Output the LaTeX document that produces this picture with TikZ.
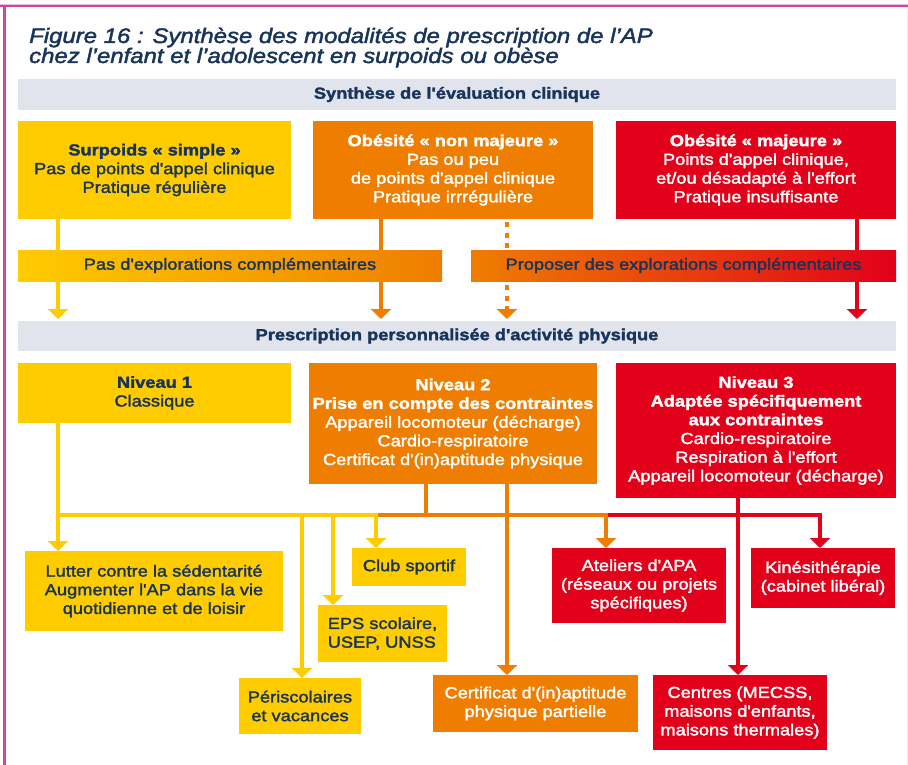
\documentclass[tikz,border=0pt]{standalone}
\usepackage{fontspec}
\setmainfont{Liberation Sans}[FakeStretch=1.14, FakeBold=2, Ligatures=TeXOff]
\usepackage{tikz}
\usetikzlibrary{arrows.meta}
\definecolor{jaune}{RGB}{255,204,0}
\definecolor{orangeAP}{RGB}{239,125,0}
\definecolor{rougeAP}{RGB}{226,0,26}
\definecolor{marine}{RGB}{24,52,90}
\definecolor{grisbande}{RGB}{225,228,236}
\definecolor{rose}{RGB}{207,72,152}
\pgfdeclarelayer{fond}
\pgfsetlayers{fond,main}

\begin{document}
\begin{tikzpicture}[x=1pt, y=-1pt,
	boite/.style={anchor=north west, inner sep=0pt, outer sep=0pt, align=center, font=\fontsize{16}{18.7}\selectfont},
	bande/.style={boite, fill=grisbande, text=marine, font=\fontsize{16}{18.7}\selectfont\bfseries},
	titre/.style={anchor=base west, inner sep=0pt, text=marine, font=\fontsize{21}{20}\selectfont\itshape},
	lien/.style={line width=3.3pt, -{Triangle[width=20pt, length=10pt]}},
	trait/.style={line width=3.3pt}]
	
	\useasboundingbox (0,0) rectangle (908,765);
	\draw[rose!40, line width=1pt] (0,4.3) -- (908,4.3);
	\draw[rose, line width=2.2pt] (0,6.3) -- (908,6.3);
	\draw[rose, line width=2.4pt] (4.5,5.2) -- (4.5,765);
	\draw[black!8, line width=1pt] (907,8) -- (907,765);
	
	\node[titre] (titre1) at (29,43) {Figure 16 : Synthèse des modalités de prescription de l’AP};
	\node[titre] (titre2) at (29,63) {chez l’enfant et l’adolescent en surpoids ou obèse};
	
	\node[bande, minimum width=878pt, minimum height=31pt] (evaluation) at (18,79) {Synthèse de l'évaluation clinique};
	
	\node[boite, fill=jaune, text=marine, minimum width=273pt, minimum height=98pt] (surpoids) at (18,121) {\textbf{Surpoids «~simple~»}\\Pas de points d'appel clinique\\Pratique régulière};
	\node[boite, fill=orangeAP, text=white, minimum width=280pt, minimum height=98pt] (nonmajeure) at (313,121) {\textbf{Obésité «~non majeure~»}\\Pas ou peu\\de points d'appel clinique\\Pratique irrrégulière};
	\node[boite, fill=rougeAP, text=white, minimum width=280pt, minimum height=98pt] (majeure) at (616,121) {\textbf{Obésité «~majeure~»}\\Points d'appel clinique,\\et/ou désadapté à l'effort\\Pratique insuffisante};
	
	\node[boite, left color=jaune, right color=orangeAP, text=marine, minimum width=424pt, minimum height=31pt] (pasexplo) at (18,250) {Pas d'explorations complémentaires};
	\node[boite, left color=orangeAP, right color=rougeAP, text=marine, minimum width=425pt, minimum height=31pt] (proposer) at (471,250) {Proposer des explorations complémentaires};
	
	\node[bande, minimum width=878pt, minimum height=30pt] (prescription) at (18,321) {Prescription personnalisée d'activité physique};
	
	\node[boite, fill=jaune, text=marine, minimum width=273pt, minimum height=60pt] (niveau1) at (18,363) {\textbf{Niveau 1}\\Classique};
	\node[boite, fill=orangeAP, text=white, minimum width=288pt, minimum height=121pt] (niveau2) at (309,363) {\textbf{Niveau 2}\\\textbf{Prise en compte des contraintes}\\Appareil locomoteur (décharge)\\Cardio-respiratoire\\Certificat d'(in)aptitude physique};
	\node[boite, fill=rougeAP, text=white, minimum width=280pt, minimum height=135pt] (niveau3) at (616,363) {\textbf{Niveau 3}\\\textbf{Adaptée spécifiquement}\\\textbf{aux contraintes}\\Cardio-respiratoire\\Respiration à l'effort\\Appareil locomoteur (décharge)};
	
	\node[boite, fill=jaune, text=marine, minimum width=258pt, minimum height=80pt] (sedentarite) at (25,551) {Lutter contre la sédentarité\\Augmenter l'AP dans la vie\\quotidienne et de loisir};
	\node[boite, fill=jaune, text=marine, minimum width=114pt, minimum height=38pt] (club) at (352,548) {Club sportif};
	\node[boite, fill=jaune, text=marine, align=left, minimum width=129pt, minimum height=57pt] (eps) at (318,605) {EPS scolaire,\\USEP, UNSS};
	\node[boite, fill=jaune, text=marine, minimum width=122pt, minimum height=56pt] (periscolaire) at (239,678) {Périscolaires\\et vacances};
	\node[boite, fill=orangeAP, text=white, minimum width=205pt, minimum height=57pt] (certificat) at (433,675) {Certificat d'(in)aptitude\\physique partielle};
	\node[boite, fill=rougeAP, text=white, minimum width=174pt, minimum height=75pt] (ateliers) at (552,548) {Ateliers d'APA\\(réseaux ou projets\\spécifiques)};
	\node[boite, fill=rougeAP, text=white, minimum width=144pt, minimum height=60pt] (kine) at (751,548) {Kinésithérapie\\(cabinet libéral)};
	\node[boite, fill=rougeAP, text=white, minimum width=174pt, minimum height=75pt] (centres) at (653,675) {Centres (MECSS,\\maisons d'enfants,\\maisons thermales)};
	
	% colonnes des fleches
	\coordinate (c1) at (58,0);
	\coordinate (c2) at (381,0);
	\coordinate (c3) at (507,0);
	\coordinate (c4) at (857,0);
	\coordinate (bus) at (0,515);
	\coordinate (b2) at (302,0);
	\coordinate (b3) at (333,0);
	\coordinate (b4) at (376,0);
	\coordinate (b5) at (426,0);
	\coordinate (b7) at (606,0);
	\coordinate (b8) at (738,0);
	\coordinate (b9) at (820,0);
	
	\begin{pgfonlayer}{fond}
		\fill[white] (0,0) rectangle (908,765);
		\draw[lien, jaune, shorten >=2pt] (surpoids.south -| c1) -- (prescription.north -| c1);
		\draw[lien, orangeAP, shorten >=2pt] (nonmajeure.south -| c2) -- (prescription.north -| c2);
		\draw[lien, orangeAP, shorten >=2pt, shorten <=3pt, dash pattern=on 5pt off 5.5pt] (nonmajeure.south -| c3) -- (prescription.north -| c3);
		\draw[lien, rougeAP, shorten >=2pt] (majeure.south -| c4) -- (prescription.north -| c4);
		
		\draw[lien, rougeAP, line join=miter] (bus -| b7) -- (bus -| b9) -- (kine.north -| b9);
		\draw[lien, rougeAP] (niveau3.south -| b8) -- (centres.north -| b8);
		\draw[trait, orangeAP] (niveau2.south -| b5) -- (bus -| b5);
		\draw[lien, orangeAP, line join=miter] (bus -| b4) -- (bus -| b7) -- (ateliers.north -| b7);
		\draw[lien, orangeAP] (niveau2.south -| c3) -- (certificat.north -| c3);
		\draw[lien, jaune] (niveau1.south -| c1) -- (sedentarite.north -| c1);
		\draw[lien, jaune, line join=miter] (bus -| c1) -- (bus -| b4) -- (club.north -| b4);
		\draw[lien, jaune] (bus -| b2) -- (periscolaire.north -| b2);
		\draw[lien, jaune] (bus -| b3) -- (eps.north -| b3);
	\end{pgfonlayer}
\end{tikzpicture}
\end{document}
